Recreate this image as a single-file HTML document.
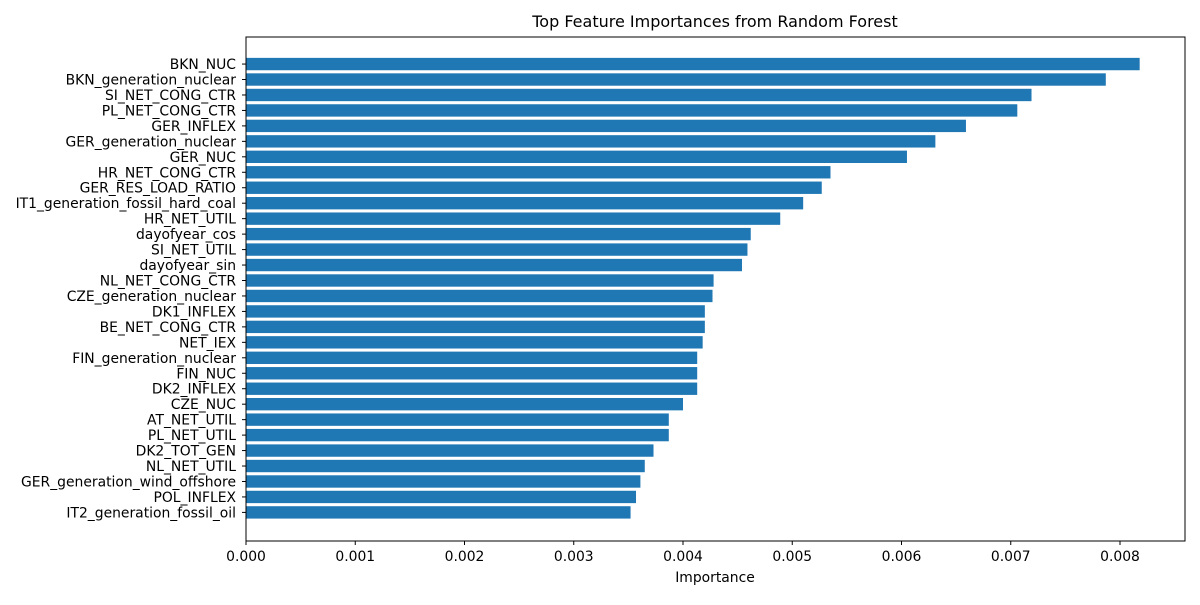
<!DOCTYPE html>
<html><head><meta charset="utf-8"><style>
body{margin:0;background:#fff;}
svg{font-family:"DejaVu Sans","Liberation Sans",sans-serif;}
</style></head><body>
<svg id="chart" width="1200" height="600" xmlns="http://www.w3.org/2000/svg">
<rect width="1200" height="600" fill="#fff"/>
<text x="715" y="27" font-size="16" text-anchor="middle">Top Feature Importances from Random Forest</text>
<g id="bars"></g><g id="yticks"></g><g id="xticks"></g>
<rect x="246" y="37" width="939" height="504" fill="none" stroke="#000" stroke-width="1"/>
<text x="715" y="582" font-size="13.9" text-anchor="middle">Importance</text>
</svg>
<script>
const features=["BKN_NUC","BKN_generation_nuclear","SI_NET_CONG_CTR","PL_NET_CONG_CTR","GER_INFLEX","GER_generation_nuclear","GER_NUC","HR_NET_CONG_CTR","GER_RES_LOAD_RATIO","IT1_generation_fossil_hard_coal","HR_NET_UTIL","dayofyear_cos","SI_NET_UTIL","dayofyear_sin","NL_NET_CONG_CTR","CZE_generation_nuclear","DK1_INFLEX","BE_NET_CONG_CTR","NET_IEX","FIN_generation_nuclear","FIN_NUC","DK2_INFLEX","CZE_NUC","AT_NET_UTIL","PL_NET_UTIL","DK2_TOT_GEN","NL_NET_UTIL","GER_generation_wind_offshore","POL_INFLEX","IT2_generation_fossil_oil"];
const importances=[0.00818,0.00787,0.00719,0.00706,0.00659,0.00631,0.00605,0.00535,0.00527,0.00510,0.00489,0.00462,0.00459,0.00454,0.00428,0.00427,0.00420,0.00420,0.00418,0.00413,0.00413,0.00413,0.00400,0.00387,0.00387,0.00373,0.00365,0.00361,0.00357,0.00352];
const xTicks=[0,0.001,0.002,0.003,0.004,0.005,0.006,0.007,0.008];
const xTickLabels=["0.000","0.001","0.002","0.003","0.004","0.005","0.006","0.007","0.008"];
const NS="http://www.w3.org/2000/svg";
const x0=246,pxPerUnit=109250;
const xs=v=>x0+v*pxPerUnit;
const axTop=37,axBottom=541,n=features.length;
const step=(axBottom-axTop)/(n-1+1.75+1.85);
const ys=i=>axTop+1.75*step+i*step;
const bh=step*0.8;
const bars=document.getElementById('bars'),yt=document.getElementById('yticks'),xt=document.getElementById('xticks');
features.forEach((f,i)=>{
 const r=document.createElementNS(NS,'rect');
 r.setAttribute('x',x0);r.setAttribute('y',ys(i)-bh/2);
 r.setAttribute('width',xs(importances[i])-x0);r.setAttribute('height',bh);
 r.setAttribute('fill','#1f77b4');
 
 
 bars.appendChild(r);
 const l=document.createElementNS(NS,'line');
 l.setAttribute('x1',x0-4);l.setAttribute('x2',x0);l.setAttribute('y1',ys(i));l.setAttribute('y2',ys(i));l.setAttribute('stroke','#000');
 yt.appendChild(l);
 const t=document.createElementNS(NS,'text');
 t.setAttribute('x',x0-10);t.setAttribute('y',ys(i)+5);t.setAttribute('font-size','13.9');t.setAttribute('text-anchor','end');
 t.textContent=f;
 
 
 yt.appendChild(t);
});
xTicks.forEach((v,i)=>{
 const l=document.createElementNS(NS,'line');
 l.setAttribute('x1',xs(v));l.setAttribute('x2',xs(v));l.setAttribute('y1',axBottom);l.setAttribute('y2',axBottom+4);l.setAttribute('stroke','#000');
 xt.appendChild(l);
 const t=document.createElementNS(NS,'text');
 t.setAttribute('x',xs(v));t.setAttribute('y',axBottom+20);t.setAttribute('font-size','13.9');t.setAttribute('text-anchor','middle');
 t.textContent=xTickLabels[i];
 
 
 xt.appendChild(t);
});
</script>
</body></html>
